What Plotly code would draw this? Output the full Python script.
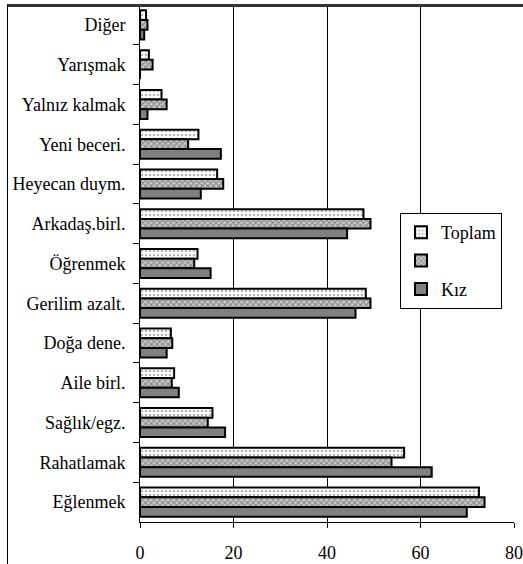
import plotly.graph_objects as go

categories = ["Diğer", "Yarışmak", "Yalnız kalmak", "Yeni beceri.", "Heyecan duym.",
              "Arkadaş.birl.", "Öğrenmek", "Gerilim azalt.", "Doğa dene.", "Aile birl.",
              "Sağlık/egz.", "Rahatlamak", "Eğlenmek"]
toplam = [1.3, 1.9, 4.6, 12.5, 16.5, 47.8, 12.3, 48.3, 6.6, 7.3, 15.5, 56.5, 72.5]
erkek = [1.6, 2.7, 5.7, 10.3, 17.8, 49.3, 11.6, 49.3, 6.9, 6.8, 14.5, 53.8, 73.7]
kiz = [0.9, 0.0, 1.6, 17.3, 13.0, 44.3, 15.1, 46.1, 5.7, 8.3, 18.2, 62.4, 69.9]
series_names = ["Toplam", " ", "Kız"]
x_ticks = [0, 20, 40, 60, 80]

FONT = "serif"

W, H = 523, 564
L, R, T, B = 140, 9, 5, 42
pw, ph = W - L - R, H - T - B

def px_x(p):
    return (p - L) / pw

def px_y(p):
    return (H - B - p) / ph

styles = [
    dict(color="white", pattern=dict(shape=".", fgcolor="#707070", bgcolor="white",
                                     size=4, solidity=0.35)),
    dict(color="#b0b0b0", pattern=dict(shape="x", fgcolor="#404040", bgcolor="#c8c8c8",
                                       size=4, solidity=0.45)),
    dict(color="#808080"),
]

fig = go.Figure()
for i, (name, vals) in enumerate(zip(series_names, [toplam, erkek, kiz])):
    fig.add_trace(go.Bar(
        y=categories, x=vals, name=name, orientation="h",
        legendgroup=f"g{i}",
        marker=dict(line=dict(color="black", width=2), **styles[i]),
    ))

fig.update_layout(
    width=W, height=H,
    margin=dict(l=L, r=R, t=T, b=B, pad=0, autoexpand=False),
    paper_bgcolor="white", plot_bgcolor="white",
    barmode="group", bargap=0.27, bargroupgap=0,
    font=dict(family=FONT, size=18, color="black"),
    showlegend=True,
    legend=dict(
        x=px_x(400), y=px_y(213), xanchor="left", yanchor="top",
        bordercolor="black", borderwidth=1, bgcolor="white",
        traceorder="grouped", tracegroupgap=2,
        font=dict(family=FONT, size=18, color="black"),
        itemwidth=30,
    ),
    xaxis=dict(
        range=[0, 80], tickvals=x_ticks, ticktext=[str(v) for v in x_ticks],
        showgrid=True, gridcolor="black", gridwidth=1,
        showline=True, linecolor="black", linewidth=1,
        ticks="outside", ticklen=5, tickcolor="black",
        ticklabelstandoff=9, zeroline=False, automargin=False,
        tickfont=dict(family=FONT, size=18),
    ),
    yaxis=dict(
        autorange="reversed", type="category",
        showline=True, linecolor="black", linewidth=1,
        ticks="outside", ticklen=6, tickcolor="black", tickson="boundaries",
        showgrid=False, ticklabelstandoff=10, automargin=False,
        tickfont=dict(family=FONT, size=18),
    ),
)

frame_js = (
    "document.body.style.margin='0';document.body.style.overflow='hidden';"
    "var f=document.createElement('div');"
    "f.style.cssText='position:absolute;left:7px;top:4px;width:700px;height:700px;"
    "border-left:1px solid #000;border-top:3px solid #333;pointer-events:none;z-index:10;';"
    "document.body.appendChild(f);"
)
fig.write_html("out.html", config={"displayModeBar": False}, post_script=frame_js)
